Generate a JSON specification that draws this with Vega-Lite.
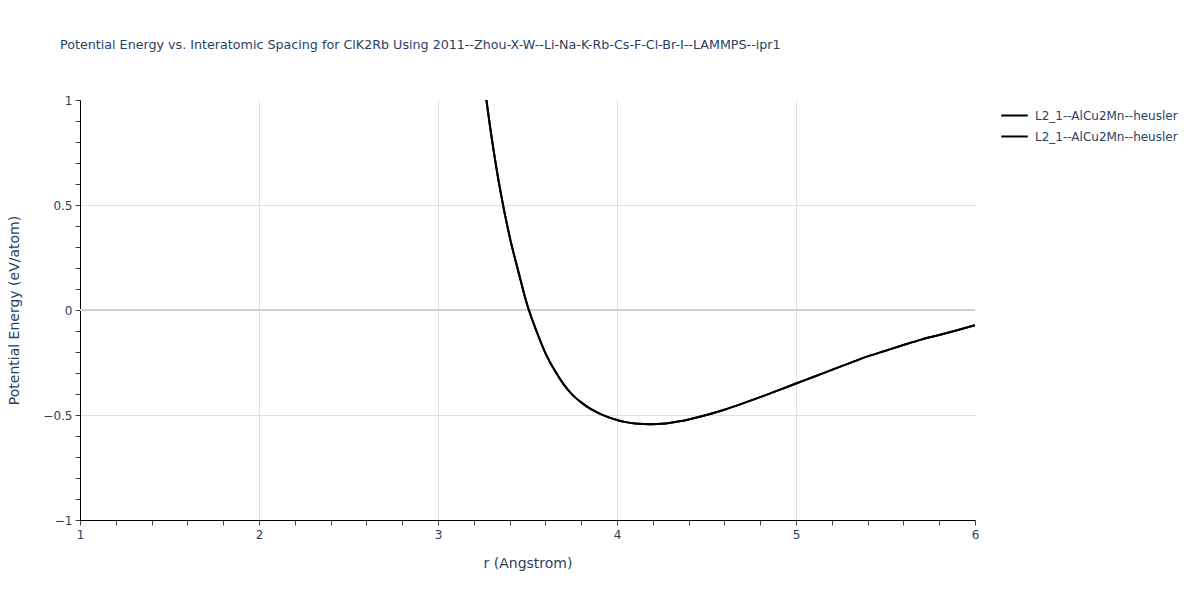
{
  "$schema": "https://vega.github.io/schema/vega-lite/v6.json",
  "autosize": "none",
  "width": 895,
  "height": 420,
  "padding": {"left": 80, "top": 100, "right": 225, "bottom": 80},
  "background": "white",
  "title": {
    "text": "Potential Energy vs. Interatomic Spacing for ClK2Rb Using 2011--Zhou-X-W--Li-Na-K-Rb-Cs-F-Cl-Br-I--LAMMPS--ipr1",
    "anchor": "start",
    "frame": "group",
    "dx": -20,
    "offset": 42,
    "font": "DejaVu Sans",
    "fontSize": 12.7,
    "fontWeight": "normal",
    "color": "#2a3f5f"
  },
  "config": {
    "view": {"stroke": null},
    "font": "DejaVu Sans"
  },
  "layer": [
    {
      "data": {"values": [{"zero": 0}]},
      "mark": {"type": "rule", "color": "#d0d0d0", "strokeWidth": 2},
      "encoding": {
        "y": {"field": "zero", "type": "quantitative", "scale": {"domain": [-1, 1], "nice": false}}
      }
    },
    {
      "data": {
        "values": [
          {"r": 3.25, "curve1": 1.13, "curve2": 1.13},
          {"r": 3.30, "curve1": 0.82, "curve2": 0.82},
          {"r": 3.35, "curve1": 0.56, "curve2": 0.56},
          {"r": 3.40, "curve1": 0.35, "curve2": 0.35},
          {"r": 3.45, "curve1": 0.18, "curve2": 0.18},
          {"r": 3.50, "curve1": 0.02, "curve2": 0.02},
          {"r": 3.55, "curve1": -0.10, "curve2": -0.10},
          {"r": 3.60, "curve1": -0.205, "curve2": -0.205},
          {"r": 3.65, "curve1": -0.285, "curve2": -0.285},
          {"r": 3.70, "curve1": -0.352, "curve2": -0.352},
          {"r": 3.75, "curve1": -0.403, "curve2": -0.403},
          {"r": 3.80, "curve1": -0.44, "curve2": -0.44},
          {"r": 3.85, "curve1": -0.47, "curve2": -0.47},
          {"r": 3.90, "curve1": -0.492, "curve2": -0.492},
          {"r": 3.95, "curve1": -0.51, "curve2": -0.51},
          {"r": 4.00, "curve1": -0.524, "curve2": -0.524},
          {"r": 4.05, "curve1": -0.534, "curve2": -0.534},
          {"r": 4.10, "curve1": -0.540, "curve2": -0.540},
          {"r": 4.15, "curve1": -0.543, "curve2": -0.543},
          {"r": 4.20, "curve1": -0.544, "curve2": -0.544},
          {"r": 4.25, "curve1": -0.542, "curve2": -0.542},
          {"r": 4.30, "curve1": -0.537, "curve2": -0.537},
          {"r": 4.35, "curve1": -0.530, "curve2": -0.530},
          {"r": 4.40, "curve1": -0.521, "curve2": -0.521},
          {"r": 4.50, "curve1": -0.500, "curve2": -0.500},
          {"r": 4.60, "curve1": -0.475, "curve2": -0.475},
          {"r": 4.70, "curve1": -0.446, "curve2": -0.446},
          {"r": 4.80, "curve1": -0.415, "curve2": -0.415},
          {"r": 4.90, "curve1": -0.383, "curve2": -0.383},
          {"r": 5.00, "curve1": -0.350, "curve2": -0.350},
          {"r": 5.10, "curve1": -0.318, "curve2": -0.318},
          {"r": 5.20, "curve1": -0.285, "curve2": -0.285},
          {"r": 5.30, "curve1": -0.253, "curve2": -0.253},
          {"r": 5.40, "curve1": -0.221, "curve2": -0.221},
          {"r": 5.50, "curve1": -0.194, "curve2": -0.194},
          {"r": 5.60, "curve1": -0.167, "curve2": -0.167},
          {"r": 5.70, "curve1": -0.141, "curve2": -0.141},
          {"r": 5.80, "curve1": -0.119, "curve2": -0.119},
          {"r": 5.90, "curve1": -0.096, "curve2": -0.096},
          {"r": 6.00, "curve1": -0.072, "curve2": -0.072}
        ]
      },
      "transform": [{"fold": ["curve1", "curve2"], "as": ["series", "E"]}],
      "mark": {"type": "line", "clip": true, "strokeWidth": 2, "interpolate": "monotone"},
      "encoding": {
        "x": {
          "field": "r",
          "type": "quantitative",
          "scale": {"domain": [1, 6], "nice": false, "zero": false},
          "axis": {
            "title": "r (Angstrom)",
            "titleFont": "DejaVu Sans",
            "titleFontSize": 14,
            "titleFontWeight": "normal",
            "titleColor": "#2a3f5f",
            "titleX": 447.5,
            "titleY": 43,
            "titleBaseline": "middle",
            "titleAlign": "center",
            "tickCount": 200,
            "values": [1, 1.2, 1.4, 1.6, 1.8, 2, 2.2, 2.4, 2.6, 2.8, 3, 3.2, 3.4, 3.6, 3.8, 4, 4.2, 4.4, 4.6, 4.8, 5, 5.2, 5.4, 5.6, 5.8, 6],
            "format": "~g",
            "labelExpr": "abs(datum.value - round(datum.value)) < 1e-6 ? datum.label : ''",
            "labelFont": "DejaVu Sans",
            "labelFontSize": 12,
            "labelColor": "#2a3f5f",
            "labelPadding": 4,
            "labelFlush": false,
            "labelOverlap": false,
            "domainColor": "#000000",
            "domainWidth": 1,
            "tickColor": "#444444",
            "tickSize": 5,
            "grid": true,
            "gridColor": "#e0e0e0",
            "gridOpacity": {"condition": {"test": "abs(datum.value - round(datum.value)) < 1e-6 && datum.value < 5.5", "value": 1}, "value": 0}
          }
        },
        "y": {
          "field": "E",
          "type": "quantitative",
          "scale": {"domain": [-1, 1], "nice": false, "zero": false},
          "axis": {
            "title": "Potential Energy (eV/atom)",
            "titleFont": "DejaVu Sans",
            "titleFontSize": 14,
            "titleFontWeight": "normal",
            "titleColor": "#2a3f5f",
            "titleX": -66,
            "titleY": 210,
            "titleAngle": -90,
            "titleAlign": "center",
            "titleBaseline": "middle",
            "tickCount": 200,
            "values": [-1, -0.9, -0.8, -0.7, -0.6, -0.5, -0.4, -0.3, -0.2, -0.1, 0, 0.1, 0.2, 0.3, 0.4, 0.5, 0.6, 0.7, 0.8, 0.9, 1],
            "format": ".1~f",
            "labelExpr": "(abs(datum.value) === 1 || abs(datum.value) === 0.5 || datum.value === 0) ? datum.label : ''",
            "labelFont": "DejaVu Sans",
            "labelFontSize": 12,
            "labelColor": "#2a3f5f",
            "labelPadding": 3,
            "labelFlush": false,
            "labelOverlap": false,
            "domainColor": "#000000",
            "domainWidth": 1,
            "tickColor": "#444444",
            "tickSize": 5,
            "grid": true,
            "gridColor": "#e0e0e0",
            "gridOpacity": {"condition": {"test": "abs(datum.value) === 0.5", "value": 1}, "value": 0}
          }
        },
        "color": {
          "field": "series",
          "type": "nominal",
          "scale": {"domain": ["curve1", "curve2"], "range": ["#000000", "#000000"]},
          "legend": {
            "title": null,
            "orient": "none",
            "legendX": 920,
            "legendY": 1,
            "symbolType": "stroke",
            "symbolSize": 700,
            "symbolStrokeWidth": 2,
            "rowPadding": -7,
            "labelOffset": 6,
            "labelFont": "DejaVu Sans",
            "labelFontSize": 12,
            "labelColor": "#2a3f5f",
            "labelExpr": "'L2_1--AlCu2Mn--heusler'"
          }
        }
      }
    }
  ]
}
